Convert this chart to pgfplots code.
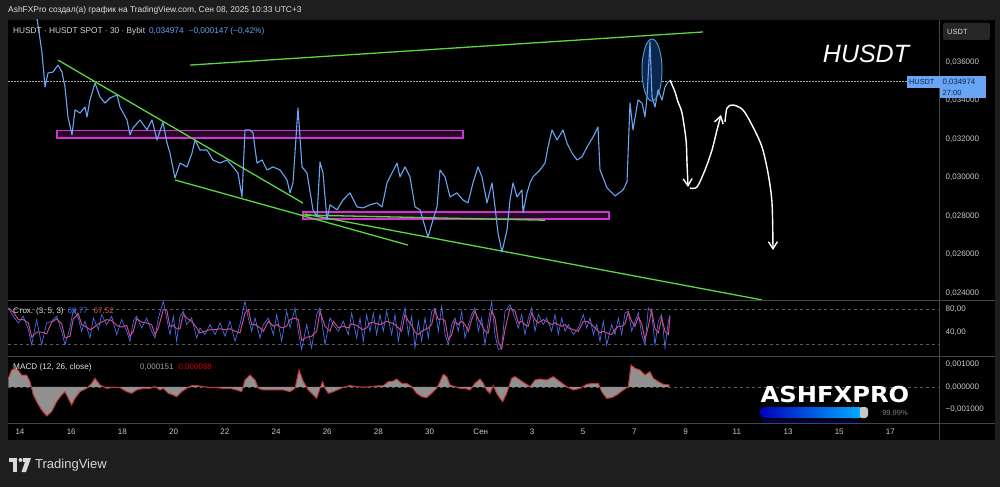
\documentclass[border=0pt]{standalone}
\usepackage{pgfplots}
\usepackage{pgfplotstable}
\pgfplotsset{compat=1.18}
\usepackage{fontspec}
\setmainfont{Liberation Sans}
\newfontfamily\dvs{DejaVu Sans}
\usetikzlibrary{arrows.meta}
\definecolor{outerbg}{RGB}{30,30,30}
\definecolor{pricebl}{RGB}{105,165,242}
\definecolor{grn}{RGB}{90,215,60}
\definecolor{mag}{RGB}{210,50,210}
\definecolor{scaletxt}{RGB}{200,200,200}
\definecolor{sepc}{RGB}{70,70,70}
\definecolor{stochk}{RGB}{70,110,235}
\definecolor{stochd}{RGB}{200,75,135}
\definecolor{stochdtxt}{RGB}{225,80,90}
\definecolor{macdred}{RGB}{200,50,50}
\definecolor{labtxt}{RGB}{15,35,80}
\definecolor{navy}{RGB}{0,0,70}
\definecolor{ellfill}{RGB}{12,38,78}
\definecolor{elldraw}{RGB}{70,150,200}
\definecolor{dashc}{RGB}{90,90,90}
\definecolor{histc}{RGB}{145,145,145}
\definecolor{usdtbox}{RGB}{38,38,38}
\definecolor{barl}{RGB}{0,0,190}
\definecolor{barr}{RGB}{0,175,255}
\definecolor{barend}{RGB}{200,200,200}

\pgfplotstableread{
d k dd
-0.456 81.7 81.7
-0.260 67.5 74.6
-0.065 56.2 61.9
0.130 67.5 61.9
0.326 44.9 56.2
0.456 19.4 32.2
0.651 61.9 40.7
0.846 19.4 40.7
1.042 56.2 37.8
1.237 59.1 57.7
1.432 67.5 63.3
1.628 42.1 54.8
1.758 19.4 30.8
1.953 47.7 33.6
2.083 78.9 63.3
2.279 64.7 71.8
2.409 42.1 53.4
2.539 59.1 50.6
2.734 30.8 45.0
2.865 64.7 47.8
3.060 44.9 54.8
3.190 70.4 57.7
3.385 53.4 61.9
3.581 67.5 60.5
3.776 36.4 52.0
3.971 61.9 49.2
4.167 42.1 52.0
4.297 25.1 33.6
4.427 59.1 42.1
4.557 67.5 63.3
4.753 47.7 57.6
4.948 64.7 56.2
5.143 42.1 53.4
5.273 30.8 36.5
5.404 64.7 47.8
5.599 93.0 78.9
5.729 64.7 78.9
5.859 36.4 50.6
5.990 67.5 52.0
6.120 25.1 46.3
6.250 67.5 46.3
6.380 76.0 71.8
6.510 53.4 64.7
6.706 64.7 59.1
6.901 30.8 47.8
7.031 47.7 39.3
7.227 36.4 42.1
7.422 53.4 44.9
7.617 36.4 44.9
7.813 56.2 46.3
8.008 33.6 44.9
8.203 59.1 46.4
8.398 25.1 42.1
8.594 53.4 39.3
8.789 93.0 73.2
8.919 64.7 78.9
9.049 42.1 53.4
9.180 64.7 53.4
9.375 30.8 47.8
9.505 53.4 42.1
9.701 64.7 59.1
9.896 36.4 50.6
10.026 70.4 53.4
10.221 25.1 47.8
10.417 76.0 50.6
10.547 47.7 61.9
10.742 81.7 64.7
10.872 42.1 61.9
11.003 11.0 26.6
11.198 53.4 32.2
11.393 13.8 33.6
11.589 70.4 42.1
11.719 81.7 76.1
11.914 19.4 50.6
12.109 64.7 42.1
12.240 53.4 59.1
12.435 42.1 47.8
12.630 59.1 50.6
12.825 36.4 47.8
12.956 73.2 54.8
13.151 30.8 52.0
13.281 64.7 47.8
13.411 25.1 44.9
13.541 70.4 47.8
13.672 42.1 56.3
13.802 73.2 57.7
13.932 36.4 54.8
14.062 70.4 53.4
14.193 42.1 56.3
14.323 76.0 59.1
14.518 36.4 56.2
14.648 70.4 53.4
14.779 25.1 47.8
14.909 59.1 42.1
15.039 81.7 70.4
15.169 36.4 59.1
15.299 67.5 52.0
15.430 13.8 40.7
15.560 59.1 36.5
15.690 25.1 42.1
15.820 64.7 44.9
15.950 30.8 47.8
16.081 76.0 53.4
16.211 81.7 78.9
16.341 42.1 61.9
16.471 84.5 63.3
16.602 36.4 60.5
16.732 19.4 27.9
16.862 53.4 36.4
16.992 64.7 59.1
17.122 42.1 53.4
17.253 76.0 59.1
17.383 30.8 53.4
17.513 53.4 42.1
17.643 70.4 61.9
17.773 81.7 76.1
17.904 42.1 61.9
18.034 64.7 53.4
18.164 19.4 42.1
18.294 59.1 39.3
18.424 93.0 76.1
18.555 36.4 64.7
18.685 11.0 23.7
18.815 13.8 12.4
18.945 76.0 44.9
19.141 87.4 81.7
19.336 64.7 76.1
19.466 47.7 56.2
19.596 70.4 59.1
19.727 36.4 53.4
19.857 64.7 50.6
19.987 81.7 73.2
20.117 42.1 61.9
20.247 70.4 56.3
20.443 53.4 61.9
20.573 64.7 59.1
20.768 42.1 53.4
20.898 70.4 56.3
21.029 36.4 53.4
21.159 64.7 50.6
21.289 42.1 53.4
21.419 53.4 47.8
21.615 36.4 44.9
21.810 47.7 42.1
22.005 70.4 59.1
22.135 47.7 59.1
22.266 64.7 56.2
22.396 36.4 50.6
22.526 53.4 44.9
22.656 25.1 39.3
22.786 59.1 42.1
22.917 19.4 39.3
23.112 53.4 36.4
23.242 36.4 44.9
23.372 64.7 50.6
23.503 36.4 50.6
23.633 73.2 54.8
23.763 76.0 74.6
23.893 42.1 59.1
24.023 59.1 50.6
24.154 73.2 66.2
24.284 36.4 54.8
24.414 19.4 27.9
24.544 81.7 50.6
24.674 73.2 77.5
24.805 19.4 46.3
24.935 59.1 39.3
25.065 70.4 64.8
25.195 13.8 42.1
25.326 59.1 36.5
25.390 69.8 67.5
}\stochtab

\pgfplotstableread{
d m
-0.456 0.385e-3
-0.326 0.756e-3
-0.130 0.830e-3
0.065 0.533e-3
0.260 0.533e-3
0.391 0.237e-3
0.521 -0.356e-3
0.651 -0.652e-3
0.846 -1.022e-3
1.042 -1.289e-3
1.237 -1.096e-3
1.432 -0.652e-3
1.628 -0.356e-3
1.758 -0.207e-3
1.888 -0.504e-3
2.018 -0.800e-3
2.148 -0.504e-3
2.344 -0.207e-3
2.604 -0.059e-3
2.799 0.163e-3
2.930 0.385e-3
3.125 0.089e-3
3.385 -0.059e-3
3.646 -0.015e-3
3.906 -0.030e-3
4.167 -0.207e-3
4.362 -0.281e-3
4.557 -0.133e-3
4.818 -0.059e-3
5.078 -0.059e-3
5.273 0.015e-3
5.469 -0.133e-3
5.599 -0.059e-3
5.794 -0.281e-3
5.990 -0.356e-3
6.120 -0.430e-3
6.315 -0.207e-3
6.510 -0.059e-3
6.706 0.059e-3
6.901 0.059e-3
7.161 0.015e-3
7.422 -0.030e-3
7.682 -0.030e-3
7.943 -0.059e-3
8.203 -0.059e-3
8.464 -0.133e-3
8.659 -0.207e-3
8.789 0.311e-3
8.984 0.533e-3
9.180 0.311e-3
9.310 -0.059e-3
9.505 -0.133e-3
9.766 -0.133e-3
10.026 -0.133e-3
10.286 -0.133e-3
10.547 -0.207e-3
10.742 -0.059e-3
10.898 0.756e-3
11.068 0.237e-3
11.263 -0.133e-3
11.458 -0.356e-3
11.589 -0.504e-3
11.719 -0.059e-3
11.823 0.237e-3
11.914 -0.059e-3
12.044 -0.281e-3
12.240 -0.207e-3
12.630 -0.015e-3
12.890 0.059e-3
13.151 0.015e-3
13.411 -0.015e-3
13.672 0.015e-3
13.932 0.044e-3
14.193 0.059e-3
14.388 0.237e-3
14.583 0.267e-3
14.714 0.356e-3
14.909 0.163e-3
15.104 0.163e-3
15.299 0.015e-3
15.495 -0.281e-3
15.690 -0.430e-3
15.885 -0.474e-3
16.081 -0.281e-3
16.276 -0.059e-3
16.406 0.237e-3
16.536 0.563e-3
16.667 0.459e-3
16.797 0.089e-3
16.992 0.015e-3
17.188 -0.059e-3
17.383 -0.059e-3
17.578 -0.133e-3
17.773 0.163e-3
17.969 0.356e-3
18.099 0.163e-3
18.229 -0.133e-3
18.359 -0.281e-3
18.490 0.059e-3
18.620 -0.281e-3
18.750 -0.504e-3
18.854 -0.652e-3
19.010 -0.281e-3
19.206 0.385e-3
19.336 0.459e-3
19.531 0.311e-3
19.727 0.163e-3
19.922 0.015e-3
20.117 0.311e-3
20.313 0.356e-3
20.573 0.311e-3
20.833 0.459e-3
21.094 0.237e-3
21.354 0.015e-3
21.615 -0.133e-3
21.875 -0.059e-3
22.135 0.119e-3
22.396 0.163e-3
22.591 0.163e-3
22.721 -0.207e-3
22.917 -0.504e-3
23.112 -0.474e-3
23.307 -0.356e-3
23.568 -0.133e-3
23.763 0.015e-3
23.867 0.978e-3
24.023 0.830e-3
24.219 0.756e-3
24.414 0.533e-3
24.609 0.681e-3
24.740 0.385e-3
24.935 0.237e-3
25.130 0.119e-3
25.365 0.089e-3
}\macdtab

\begin{document}
\begin{tikzpicture}
% backgrounds
\begin{scope}[x=1pt,y=1pt]
\fill[outerbg] (0,0) rectangle (1000,487);
\fill[black] (8,47) rectangle (995,467);
\fill[navy] (762,63) rectangle (858,67);
\end{scope}

% ---------- price panel ----------
\begin{axis}[at={(8pt,187pt)}, anchor=south west, scale only axis,
  width=932pt, height=280pt,
  xmin=-0.46875, xmax=35.9375, ymin=0.023636, ymax=0.038182,
  axis line style={draw=none}, tick style={draw=none},
  xtick=\empty, scaled y ticks=false,
  ytick={0.024,0.026,0.028,0.030,0.032,0.034,0.036},
  yticklabels={{0,024000},{0,026000},{0,028000},{0,030000},{0,032000},{0,034000},{0,036000}},
  yticklabel pos=right,
  yticklabel style={anchor=west, inner sep=0pt, xshift=5.5pt, text=scaletxt, font=\fontsize{8}{9}\selectfont},
]
% current price dotted line
\addplot[densely dotted, gray!70, line width=0.5pt] coordinates {(-0.47,0.034974) (34.65,0.034974)};
% magenta zones
\draw[mag, line width=1.4pt, fill=mag, fill opacity=0.18] (axis cs:1.445,0.032052) rectangle (axis cs:17.305,0.032444);
\draw[mag, line width=1.4pt, fill=mag, fill opacity=0.18] (axis cs:11.055,0.027845) rectangle (axis cs:23.008,0.028208);
% ellipse fill
\fill[ellfill] (axis cs:24.6875,0.035584) ellipse [x radius=10pt, y radius=31pt];
% green trend lines
\addplot[grn, line width=1.3pt] coordinates {(1.484,0.03610) (11.055,0.02867)};
\addplot[grn, line width=1.3pt] coordinates {(6.055,0.02987) (15.156,0.02649)};
\addplot[grn, line width=1.3pt] coordinates {(11.133,0.02810) (28.984,0.02364)};
\addplot[grn, line width=1.3pt] coordinates {(6.641,0.03584) (26.680,0.03756)};
\addplot[grn, line width=1.3pt] coordinates {(11.055,0.02805) (20.508,0.02778)};
% price line
\addplot[pricebl, line width=1.1pt, line join=round] coordinates {
(0.625,0.03860) (0.703,0.03792) (0.859,0.03647) (0.977,0.03470) (1.094,0.03543)
(1.289,0.03548) (1.484,0.03584) (1.641,0.03548) (1.758,0.03470) (1.875,0.03314)
(2.031,0.03221) (2.148,0.03351) (2.344,0.03335) (2.539,0.03366) (2.617,0.03314)
(2.734,0.03403) (2.930,0.03491) (3.125,0.03418) (3.320,0.03387) (3.516,0.03413)
(3.789,0.03429) (3.906,0.03366) (4.180,0.03299) (4.297,0.03221) (4.414,0.03257)
(4.688,0.03299) (4.961,0.03247) (5.156,0.03299) (5.352,0.03195) (5.586,0.03288)
(5.742,0.03179) (5.859,0.03127) (6.055,0.02997) (6.250,0.03075) (6.523,0.03055)
(6.719,0.03127) (6.836,0.03195) (7.031,0.03143) (7.305,0.03143) (7.539,0.03091)
(7.813,0.03075) (8.086,0.03091) (8.320,0.03055) (8.516,0.03023) (8.672,0.02899)
(8.789,0.03247) (8.984,0.03247) (9.102,0.03231) (9.258,0.03075) (9.453,0.03091)
(9.648,0.03039) (9.883,0.03055) (10.156,0.03039) (10.430,0.02987) (10.547,0.02920)
(10.664,0.02972) (10.859,0.03361) (11.016,0.03055) (11.211,0.03023) (11.445,0.02832)
(11.602,0.02795) (11.719,0.03081) (11.836,0.03023) (11.992,0.02780) (12.109,0.02858)
(12.383,0.02832) (12.617,0.02883) (12.891,0.02920) (13.164,0.02847) (13.398,0.02842)
(13.672,0.02858) (13.945,0.02868) (14.141,0.02847) (14.336,0.02972) (14.727,0.03075)
(14.844,0.03003) (15.039,0.03055) (15.234,0.03003) (15.430,0.02847) (15.625,0.02832)
(15.938,0.02691) (16.133,0.02780) (16.289,0.02847) (16.406,0.03039) (16.602,0.03003)
(16.797,0.02899) (17.070,0.02920) (17.305,0.02883) (17.500,0.02868) (17.695,0.02972)
(17.891,0.03055) (18.047,0.03003) (18.242,0.02868) (18.438,0.02972) (18.555,0.02847)
(18.672,0.02712) (18.828,0.02613) (19.023,0.02727) (19.141,0.02883) (19.258,0.02972)
(19.414,0.02899) (19.609,0.02935) (19.648,0.02816) (19.805,0.02920) (19.922,0.02972)
(20.039,0.03003) (20.313,0.03039) (20.508,0.03075) (20.625,0.03158) (20.781,0.03247)
(20.977,0.03195) (21.211,0.03247) (21.367,0.03179) (21.563,0.03127) (21.758,0.03091)
(21.953,0.03107) (22.148,0.03158) (22.383,0.03210) (22.578,0.03262) (22.656,0.03039)
(22.930,0.02946) (23.242,0.02904) (23.555,0.02935) (23.711,0.02977) (23.828,0.03387)
(23.945,0.03247) (24.141,0.03403) (24.297,0.03387) (24.414,0.03314) (24.492,0.03418)
(24.609,0.03704) (24.688,0.03418) (24.805,0.03366) (24.922,0.03455) (25.078,0.03403)
(25.195,0.03470) (25.313,0.03497)
};
% ellipse outline
\draw[elldraw, line width=1pt] (axis cs:24.6875,0.035584) ellipse [x radius=10pt, y radius=31pt];
% white hand-drawn arrows
\addplot[white, line width=1.4pt, smooth, -{Straight Barb[length=7pt,width=9pt]}] coordinates {
(25.391,0.035065) (25.586,0.034442) (25.703,0.033922) (25.859,0.033351) (26.016,0.031948) (26.055,0.030753) (26.094,0.029506)};
\addplot[white, line width=1.4pt, smooth, -{Straight Barb[length=7pt,width=9pt]}] coordinates {
(26.172,0.029454) (26.445,0.029506) (26.758,0.030390) (27.031,0.031429) (27.227,0.032468) (27.383,0.033247)};
\addplot[white, line width=1.4pt, smooth, -{Straight Barb[length=7pt,width=9pt]}] coordinates {
(27.539,0.032883) (27.617,0.033610) (27.852,0.033766) (28.242,0.033506) (28.633,0.032623) (28.984,0.031584) (29.219,0.030234) (29.375,0.028675) (29.414,0.026234)};
\end{axis}

% ---------- stochastic panel ----------
\begin{axis}[at={(8pt,131pt)}, anchor=south west, scale only axis,
  width=932pt, height=55pt,
  xmin=-0.46875, xmax=35.9375, ymin=0, ymax=93.6,
  axis line style={draw=none}, tick style={draw=none},
  xtick=\empty,
  ytick={40,80}, yticklabels={{40,00},{80,00}},
  yticklabel pos=right,
  yticklabel style={anchor=west, inner sep=0pt, xshift=5.5pt, text=scaletxt, font=\fontsize{8}{9}\selectfont},
]
\addplot[dashed, dashc, line width=0.5pt] coordinates {(-0.47,80) (35.94,80)};
\addplot[dashed, dashc, line width=0.5pt] coordinates {(-0.47,20) (35.94,20)};
\addplot[stochk, line width=0.7pt] table[x=d,y=k]{\stochtab};
\addplot[stochd, line width=1.0pt] table[x=d,y=dd]{\stochtab};
\end{axis}

% ---------- MACD panel ----------
\begin{axis}[at={(8pt,64pt)}, anchor=south west, scale only axis,
  width=932pt, height=66pt,
  xmin=-0.46875, xmax=35.9375, ymin=-1.6e-3, ymax=1.333e-3,
  axis line style={draw=none}, tick style={draw=none},
  scaled y ticks=false,
  ytick={-0.001,0,0.001}, yticklabels={{−0,001000},{0,000000},{0,001000}},
  yticklabel pos=right,
  yticklabel style={anchor=west, inner sep=0pt, xshift=5.5pt, text=scaletxt, font=\fontsize{8}{9}\selectfont},
  xtick={0,2,4,6,8,10,12,14,16,18,20,22,24,26,28,30,32,34},
  xticklabels={14,16,18,20,22,24,26,28,30,Сен,3,5,7,9,11,13,15,17},
  xticklabel style={anchor=base, inner sep=0pt, yshift=-12pt, text=scaletxt, font=\fontsize{8}{9}\selectfont},
]
\addplot[dashed, dashc, line width=0.5pt] coordinates {(-0.47,0) (35.94,0)};
\addplot[fill=histc, draw=none] table[x=d,y=m]{\macdtab} \closedcycle;
\addplot[macdred, line width=1.0pt] table[x=d,y=m]{\macdtab};
\end{axis}

\begin{scope}[x=1pt,y=1pt]
% separators
\draw[sepc, line width=1.2pt] (8,186.5) -- (995,186.5);
\draw[sepc, line width=1.2pt] (8,130.5) -- (995,130.5);
\draw[sepc, line width=1pt] (8,64) -- (995,64);
\draw[sepc, line width=0.8pt] (939.5,47) -- (939.5,467);

% header
\node[anchor=west, inner sep=0pt, text=white!88!black, font=\fontsize{8.4}{10}\selectfont] at (8,477) {AshFXPro создал(а) график на TradingView.com, Сен 08, 2025 10:33 UTC+3};
\node[anchor=west, inner sep=0pt, font=\fontsize{8.3}{10}\selectfont] at (13,456) {\textcolor{white!85!black}{HUSDT · HUSDT SPOT · 30 · Bybit}\hspace{4pt}\textcolor{pricebl}{0,034974\hspace{5pt}−0,000147 (−0,42\%)}};

% USDT box
\fill[usdtbox, rounded corners=2pt] (943,447) rectangle (990,464);
\node[anchor=west, inner sep=0pt, text=white!85!black, font=\fontsize{7.5}{8}\selectfont] at (947,455.5) {USDT};

% price label
\fill[pricebl] (907,399) rectangle (940,411);
\fill[pricebl] (940,389) rectangle (986,411);
\node[anchor=west, inner sep=0pt, text=labtxt, font=\fontsize{7.3}{8}\selectfont] at (909,405) {HUSDT};
\node[anchor=west, inner sep=0pt, text=labtxt, font=\fontsize{7.8}{8}\selectfont] at (942.5,405) {0,034974};
\node[anchor=west, inner sep=0pt, text=labtxt, font=\fontsize{7.5}{8}\selectfont] at (942.5,394.5) {27:00};

% big title
\node[text=white, font=\fontsize{25}{28}\itshape] at (866,433) {HUSDT};

% indicator labels
\node[anchor=west, inner sep=0pt, font=\fontsize{8}{9}\selectfont] at (13,176) {\textcolor{white!90!black}{Стох. (3, 5, 3)}\hspace{4pt}\textcolor{stochk}{69,77}\hspace{6pt}\textcolor{stochdtxt}{67,52}};
\node[anchor=west, inner sep=0pt, font=\fontsize{8.2}{9}\selectfont] at (13,120) {\textcolor{white!90!black}{MACD (12, 26, close)}};
\node[anchor=west, inner sep=0pt, font=\fontsize{8}{9}\selectfont] at (140,120) {\textcolor{gray!75!white}{0,000151}\hspace{5pt}\textcolor{red!85!black}{0,000088}};

% watermark
\node[text=white, inner sep=0pt, font=\dvs\bfseries\fontsize{22}{24}\selectfont, xscale=1.1] at (835,92.5) {ASHFXPRO};
\shade[left color=barl, right color=barr, rounded corners=4pt] (760,69) rectangle (863,80);
\fill[barend, rounded corners=3pt] (859,69) rectangle (868,80);
\fill[barr] (858,69) rectangle (860,80);
\node[text=gray, inner sep=0pt, font=\fontsize{7.5}{9}\selectfont] at (895,74.5) {99.99\%};

% TradingView logo
\fill[white!85!black] (9,25) rectangle (17,29);
\fill[white!85!black] (13,15) rectangle (17,29);
\fill[white!85!black] (20.5,27) circle (2pt);
\fill[white!85!black] (23,29) -- (31,29) -- (26,15) -- (21.5,15) -- (25,25) -- (23,25) -- cycle;
\node[anchor=west, inner sep=0pt, text=white!85!black, font=\fontsize{13}{15}\selectfont] at (35,21.5) {TradingView};
\end{scope}
\end{tikzpicture}
\end{document}
